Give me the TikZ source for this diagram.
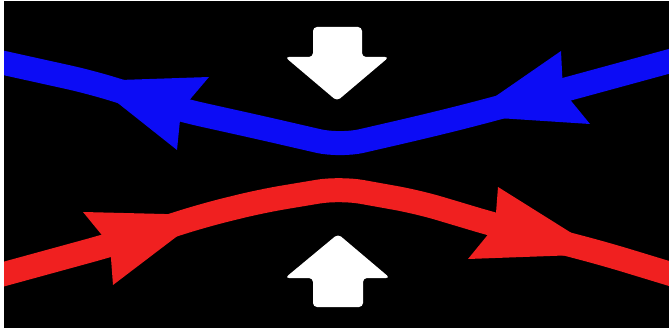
\documentclass[tikz,border=0pt]{standalone}
\definecolor{flowblue}{RGB}{12,12,245}
\definecolor{flowred}{RGB}{240,32,32}
\tikzset{
  flowline/.style={line width=24pt, line cap=butt, line join=round, rounded corners=22pt},
  bluehead/.style={fill=flowblue},
  redhead/.style={fill=flowred},
  whitearrow/.style={fill=white, rounded corners=4pt}
}
\begin{document}
\begin{tikzpicture}[x=1pt,y=-1pt]
\useasboundingbox (0,0) rectangle (669,331);
\fill[white] (0,0) rectangle (669,331);
\fill[black] (4,1.5) rectangle (669,328);
\begin{scope}
\clip (4,1.5) rectangle (669,328);
% blue flow (leftwards)
\draw[flowline, draw=flowblue] (-5,61) -- (90,82) -- (181,110) -- (262,128) -- (340,146) -- (418,128) -- (467,116) -- (564,90) -- (674,60);
\fill[bluehead] (90,81) -- (209,77) -- (181,110) -- (177,150) -- cycle;
\fill[bluehead] (467,116) -- (561,51) -- (563,91) -- (590,124) -- cycle;
% red flow (rightwards)
\draw[flowline, draw=flowred] (-5,276.5) -- (110,245) -- (205,215) -- (262,201) -- (340,188) -- (418,202) -- (495,225) -- (605,254) -- (674,275);
\fill[redhead] (205,215) -- (83,212) -- (110,245) -- (113,285) -- cycle;
\fill[redhead] (605,254) -- (498,187) -- (495,226) -- (468,259) -- cycle;
\end{scope}
% white arrows
\fill[whitearrow] (313,27) -- (362,27) -- (362,57) -- (389,57) -- (337,101) -- (285,57) -- (313,57) -- cycle;
\fill[whitearrow] (338,234) -- (390,278) -- (363,278) -- (363,307) -- (313,307) -- (313,278) -- (285,278) -- cycle;
\end{tikzpicture}
\end{document}
